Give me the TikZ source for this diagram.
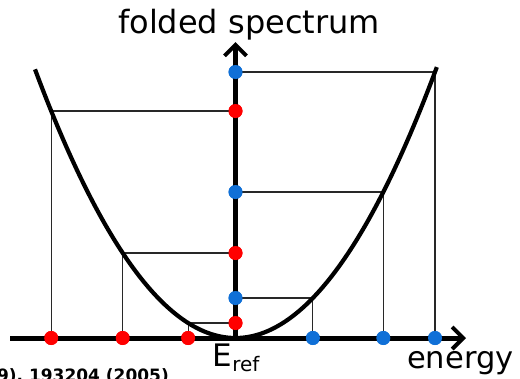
\documentclass[tikz,border=0pt]{standalone}
\usepackage{fontspec}
\setmainfont{DejaVu Sans}
\usetikzlibrary{arrows.meta}
\definecolor{dotred}{RGB}{255,0,0}
\definecolor{dotblue}{RGB}{16,112,215}
\definecolor{thinline}{RGB}{40,40,40}
\begin{document}
\begin{tikzpicture}[x=1pt,y=-1pt,
  rdot/.style={circle,fill=dotred,inner sep=0pt,minimum size=14pt},
  bdot/.style={circle,fill=dotblue,inner sep=0pt,minimum size=14pt},
  guide/.style={draw=thinline,line width=1.1pt},
  axisline/.style={line width=5pt,-{Straight Barb[length=11pt,width=22pt,line width=4pt]}},
  curve/.style={line width=4.2pt},
  bigtext/.style={inner sep=0pt,font=\fontsize{31}{34}\selectfont}]
\useasboundingbox (0,0) rectangle (520,378);
\clip (0,0) rectangle (520,378);
% axis origin and ends
\coordinate (O) at (235.5,338);
\coordinate (xl) at (10,338);
\coordinate (xr) at (466,338);
\coordinate (yt) at (235.5,42);
% dots on vertical axis
\node[bdot] (v1) at (235.5,72) {};
\node[rdot] (v2) at (235.5,111) {};
\node[bdot] (v3) at (235.5,192) {};
\node[rdot] (v4) at (235.5,253) {};
\node[bdot] (v5) at (235.5,298) {};
\node[rdot] (v6) at (235.5,323) {};
% dots on horizontal axis
\node[bdot] (h1) at (435,338) {};
\node[rdot] (h2) at (51.2,338) {};
\node[bdot] (h3) at (383.3,338) {};
\node[rdot] (h4) at (122.7,338) {};
\node[bdot] (h5) at (312.9,338) {};
\node[rdot] (h6) at (188.1,338) {};
% guide lines
\foreach \i in {1,...,6}{
  \draw[guide] (v\i.center) -- (h\i.center |- v\i.center) -- (h\i.center);
}
% parabola
\draw[curve] plot[domain=-2.005:2.015,samples=120,smooth] ({235.5+100*\x},{338-66.83*\x*\x});
% axes
\draw[axisline] (xl) -- (xr);
\draw[axisline] (O) -- (yt);
% redraw dots on top
\foreach \i in {1,3,5}{
  \fill[dotblue] (v\i) circle (7pt);
  \fill[dotblue] (h\i) circle (7pt);
}
\foreach \i in {2,4,6}{
  \fill[dotred] (v\i) circle (7pt);
  \fill[dotred] (h\i) circle (7pt);
}
% labels
\node[inner sep=0pt,anchor=base,font=\fontsize{32}{34}\selectfont] (title) at (249,33) {folded spectrum};
\node[inner sep=0pt,anchor=base west,font=\fontsize{30.5}{33}\selectfont] (en) at (407,368) {energy};
\node[inner sep=0pt,anchor=base west] (eref) at (212.5,366.7)
  {\fontsize{31}{32}\selectfont E\raisebox{-4.5pt}{\fontsize{20}{22}\selectfont ref}};
\node[inner sep=0pt,anchor=base east,font=\bfseries\fontsize{17}{19}\selectfont] (cite) at (169,381.5) {9), 193204 (2005)};
\end{tikzpicture}
\end{document}
